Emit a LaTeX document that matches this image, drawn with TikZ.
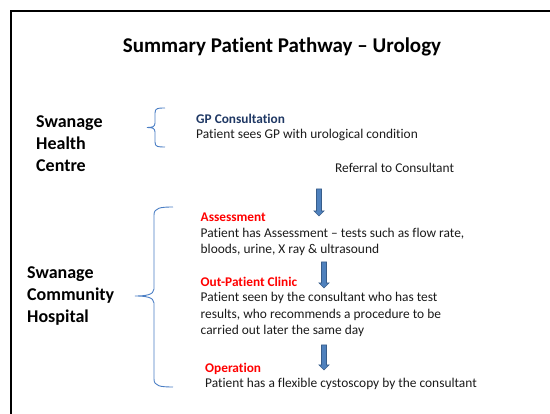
\documentclass[tikz,border=0pt]{standalone}
\usepackage{fontspec}
\setmainfont{Carlito}[Ligatures={NoCommon}]
\definecolor{navy}{HTML}{1F3864}
\definecolor{arrfill}{HTML}{4F81BD}
\definecolor{arrline}{HTML}{385D8A}
\definecolor{bracecol}{HTML}{4A7EC4}
\definecolor{bodytext}{HTML}{1A1A1A}
\begin{document}
\begin{tikzpicture}[x=1pt,y=-1pt,
  titletext/.style={font=\bfseries\fontsize{21}{25}\selectfont, anchor=base, inner sep=0pt},
  sitetext/.style={font=\bfseries\fontsize{18}{22}\selectfont, anchor=base west, inner sep=0pt, align=left},
  headtext/.style={font=\bfseries\fontsize{13.3}{16.5}\selectfont, anchor=base west, inner sep=0pt},
  bodytxt/.style={font=\fontsize{13.4}{16.5}\selectfont, text=bodytext, anchor=base west, inner sep=0pt},
  blockarrow/.style={fill=arrfill, draw=arrline, line width=0.7pt, line join=miter},
  bracestyle/.style={draw=bracecol, line width=0.9pt}]
\useasboundingbox (0,0) rectangle (550,414);
% frame
\coordinate (frTL) at (11,11);
\coordinate (frTR) at (551,11);
\coordinate (frBL) at (11,415);
\draw[line width=2pt] (frTR) -- (frTL) -- (frBL);
% title
\node[titletext] (title) at (282,53) {Summary Patient Pathway – Urology};
% sites
\node[sitetext] (hc1) at (36,128) {Swanage};
\node[sitetext] (hc2) at (36,150) {Health};
\node[sitetext] (hc3) at (36,172) {Centre};
\node[sitetext] (ch1) at (27,279) {Swanage};
\node[sitetext] (ch2) at (27,301) {Community};
\node[sitetext] (ch3) at (27,323) {Hospital};
% braces
\draw[bracestyle] (165,108) .. controls (158,108) and (155,108) .. (155,113)
  -- (155,123) .. controls (155,127) and (152,127.5) .. (147,127.5)
  .. controls (152,127.5) and (155,128) .. (155,132)
  -- (155,142) .. controls (155,147) and (158,147) .. (165,147);
\draw[bracestyle] (173,207) .. controls (160,207) and (154,208) .. (154,215)
  -- (154,289) .. controls (154,295) and (145,296) .. (135,296)
  .. controls (145,296) and (154,297) .. (154,303)
  -- (154,379) .. controls (154,386) and (160,387) .. (173,387);
% GP
\node[headtext, text=navy] (gph) at (196,124) {GP Consultation};
\node[bodytxt] (gpb) at (196,139) {Patient sees GP with urological condition};
\node[bodytxt] (ref) at (335,173) {Referral to Consultant};
% assessment
\node[headtext, text=red] (ash) at (200.5,222) {Assessment};
\node[bodytxt] (asb1) at (200.5,238) {Patient has Assessment – tests such as flow rate,};
\node[bodytxt] (asb2) at (200.5,254) {bloods, urine, X ray \& ultrasound};
% OPC
\node[headtext, text=red] (oph) at (200.5,287) {Out-Patient Clinic};
\node[bodytxt] (opb1) at (200.5,302) {Patient seen by the consultant who has test};
\node[bodytxt] (opb2) at (200.5,319) {results, who recommends a procedure to be};
\node[bodytxt] (opb3) at (200.5,335) {carried out later the same day};
% operation
\node[headtext, text=red] (oph2) at (205,373) {Operation};
\node[bodytxt] (opb4) at (205,388) {Patient has a flexible cystoscopy by the consultant};
% arrows
\foreach \cx/\ty/\by in {319/189/216, 324/262/288, 324/345/370}{
  \draw[blockarrow] (\cx-2.5,\ty) -- (\cx+2.5,\ty) -- (\cx+2.5,\by-5) -- (\cx+5,\by-5)
    -- (\cx,\by) -- (\cx-5,\by-5) -- (\cx-2.5,\by-5) -- cycle;
}
\end{tikzpicture}
\end{document}
